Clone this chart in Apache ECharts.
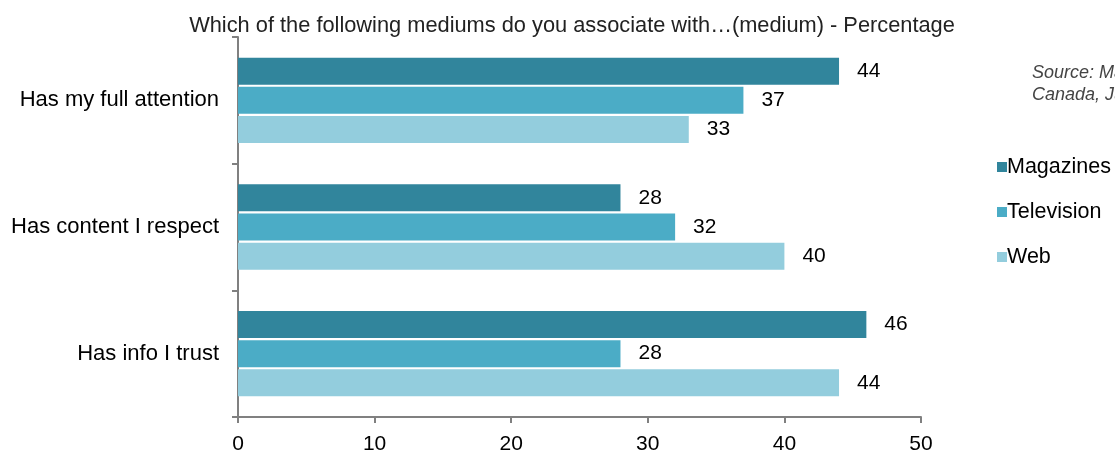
<!DOCTYPE html>
<html>
<head>
<meta charset="utf-8">
<script src="https://cdn.jsdelivr.net/npm/echarts@6/dist/echarts.min.js"></script>
<style>
  html, body { margin: 0; padding: 0; background: #fff; }
  #chart { width: 1115px; height: 452px; }
</style>
</head>
<body>
<div id="chart"></div>
<script>
// categories, top to bottom
var categories = ['Has my full attention', 'Has content I respect', 'Has info I trust'];
var magazines = [44, 28, 46];
var television = [37, 32, 28];
var web = [33, 40, 44];
var xTicks = [0, 10, 20, 30, 40, 50];

var font = 'Arial, "Liberation Sans", sans-serif';
var labelCfg = {
    show: true,
    position: 'right',
    distance: 18,
    color: '#000',
    fontSize: 21,
    fontFamily: font
};

var chart = echarts.init(document.getElementById('chart'));
var option = {
    animation: false,
    title: {
        text: 'Which of the following mediums do you associate with\u2026(medium) - Percentage',
        left: 567,
        textAlign: 'center',
        top: 10,
        textStyle: { color: '#222', fontSize: 21.8, fontWeight: 'normal', fontFamily: font }
    },
    legend: {
        orient: 'vertical',
        left: 992,
        top: 151,
        icon: 'rect',
        itemWidth: 10,
        itemHeight: 10,
        itemGap: 23,
        textStyle: { color: '#000', fontSize: 21.5, fontFamily: font, padding: [0, 0, 0, -5] },
        data: ['Magazines', 'Television', 'Web']
    },
    graphic: [{
        type: 'text',
        left: 1032,
        top: 62,
        style: {
            text: 'Source: Magazines\nCanada, June 2011',
            font: 'italic 18px ' + font,
            fill: '#444',
            lineHeight: 22
        }
    }],
    grid: { left: 238, right: 194, top: 37, bottom: 35, containLabel: false, outerBoundsMode: 'none' },
    xAxis: {
        type: 'value',
        min: 0,
        max: 50,
        interval: 10,
        splitLine: { show: false },
        axisLine: { show: true, lineStyle: { color: '#808080', width: 2 } },
        axisTick: { show: true, length: 6, lineStyle: { color: '#808080', width: 2 } },
        axisLabel: {
            color: '#000', fontSize: 21, fontFamily: font, margin: 17,
            formatter: function (v) { return xTicks.indexOf(v) >= 0 ? String(v) : ''; }
        }
    },
    yAxis: {
        type: 'category',
        inverse: true,
        data: categories,
        axisLine: { show: true, lineStyle: { color: '#808080', width: 2 } },
        axisTick: { show: true, length: 6, lineStyle: { color: '#808080', width: 2 } },
        axisLabel: { color: '#000', fontSize: 22, fontFamily: font, margin: 19 }
    },
    series: [{
        name: 'Magazines',
        type: 'bar',
        data: magazines,
        barWidth: 27,
        barGap: '8%',
        itemStyle: { color: '#31859c' },
        label: labelCfg
    }, {
        name: 'Television',
        type: 'bar',
        data: television,
        barWidth: 27,
        barGap: '8%',
        itemStyle: { color: '#4bacc6' },
        label: labelCfg
    }, {
        name: 'Web',
        type: 'bar',
        data: web,
        barWidth: 27,
        barGap: '8%',
        itemStyle: { color: '#93cddd' },
        label: labelCfg
    }]
};
chart.setOption(option);
</script>
</body>
</html>
